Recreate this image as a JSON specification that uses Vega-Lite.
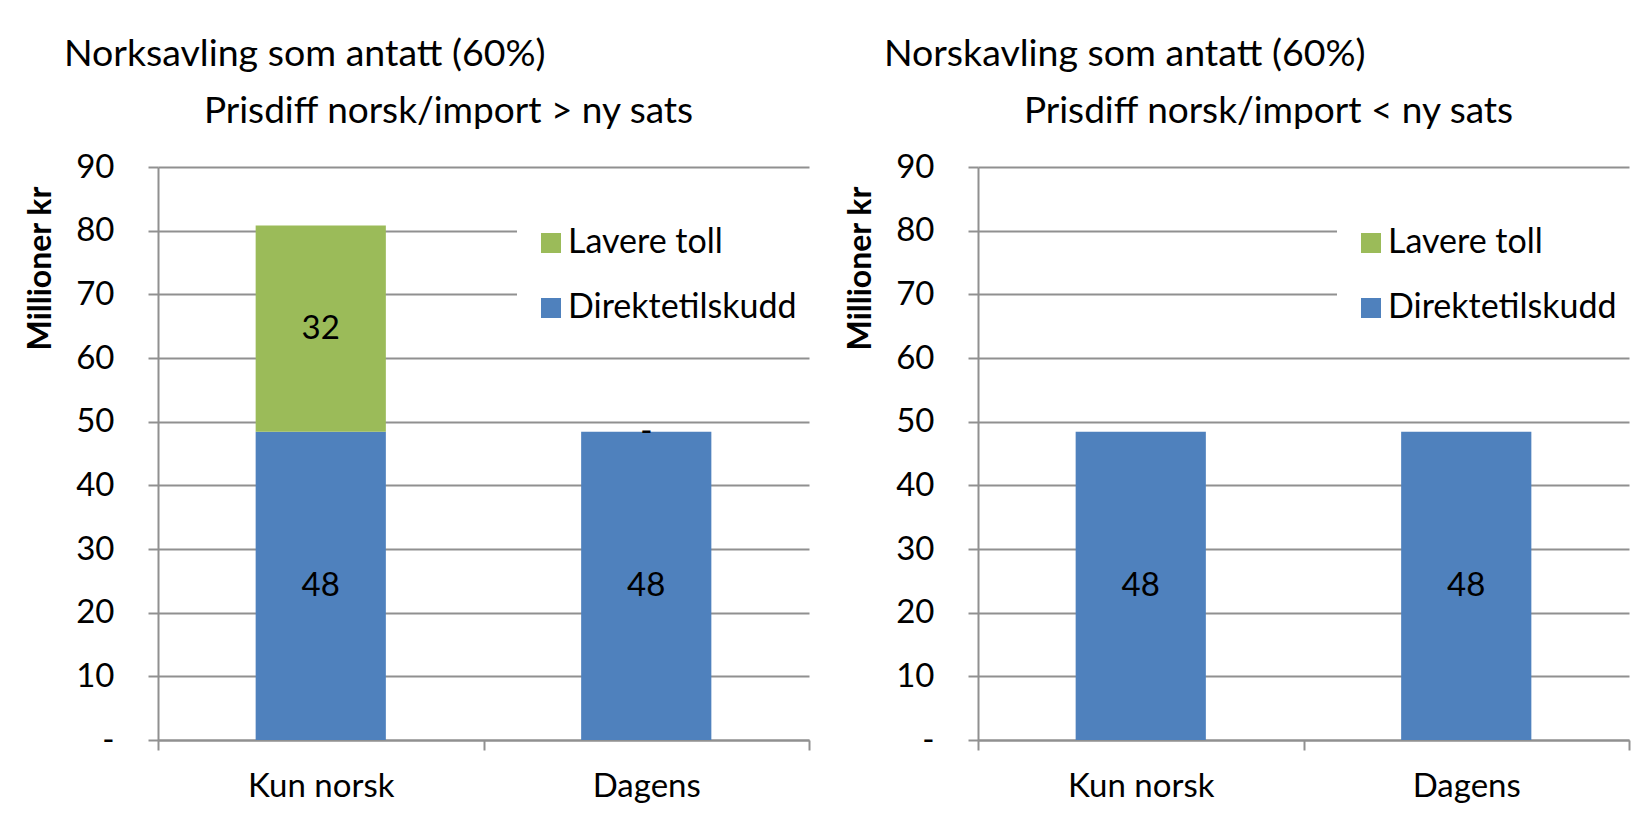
{
  "$schema": "https://vega.github.io/schema/vega-lite/v6.json",
  "background": "white",
  "padding": {"left": 23, "top": 35, "right": 0, "bottom": 0},
  "config": {
    "font": "Lato",
    "view": {"stroke": null},
    "axis": {
      "labelFont": "Lato", "titleFont": "Lato",
      "labelColor": "#000000", "titleColor": "#000000",
      "domainColor": "#909090", "tickColor": "#909090", "gridColor": "#909090",
      "domainWidth": 2, "tickWidth": 2, "gridWidth": 2
    },
    "legend": {"labelFont": "Lato"},
    "title": {"font": "Lato", "fontSize": 37.5, "fontWeight": "normal", "color": "#000000"}
  },
  "datasets": {
    "venstre": [
      {"kategori": "Kun norsk", "serie": "Direktetilskudd", "verdi": 48.4},
      {"kategori": "Kun norsk", "serie": "Lavere toll", "verdi": 32.4},
      {"kategori": "Dagens", "serie": "Direktetilskudd", "verdi": 48.4},
      {"kategori": "Dagens", "serie": "Lavere toll", "verdi": 0}
    ],
    "hoyre": [
      {"kategori": "Kun norsk", "serie": "Direktetilskudd", "verdi": 48.4},
      {"kategori": "Dagens", "serie": "Direktetilskudd", "verdi": 48.4}
    ]
  },
  "spacing": 29,
  "resolve": {"scale": {"color": "independent"}, "legend": {"color": "independent"}},
  "hconcat": [
    {
      "width": 651, "height": 573,
      "title": {"text": "Norksavling som antatt (60%)", "anchor": "start", "frame": "group", "dx": -94, "offset": 19},
      "data": {"name": "venstre"},
      "resolve": {"axis": {"x": "independent"}},
      "layer": [
        {
          "mark": {"type": "bar", "width": {"band": 0.4}},
          "encoding": {
            "x": {"field": "kategori", "type": "nominal", "sort": ["Kun norsk", "Dagens"],
              "scale": {"paddingInner": 0, "paddingOuter": 0},
              "axis": {"orient": "bottom", "title": null, "tickBand": "extent", "tickSize": 10, "labelPadding": 20, "labelFontSize": 33, "labelAngle": 0, "grid": false}},
            "y": {"field": "verdi", "type": "quantitative", "stack": "zero",
              "scale": {"domain": [0, 90], "nice": false},
              "axis": {"values": [0, 10, 20, 30, 40, 50, 60, 70, 80, 90], "labelExpr": "datum.value == 0 ? '-\u00a0\u00a0' : datum.label",
                "tickSize": 10, "labelPadding": 34, "labelFontSize": 33, "grid": true,
                "title": "Millioner kr", "titleFontWeight": "bold", "titleFontSize": 32,
                "titleAngle": 270, "titleX": -118, "titleY": 101, "titleAlign": "center", "titleBaseline": "middle"}},
            "color": {"field": "serie", "type": "nominal",
              "scale": {"domain": ["Lavere toll", "Direktetilskudd"], "range": ["#9BBB59", "#4F81BD"]},
              "legend": {"orient": "none", "legendX": 359, "legendY": 42, "title": null, "fillColor": "white", "padding": 17,
                "symbolType": "square", "symbolSize": 400, "symbolStrokeWidth": 0, "labelFontSize": 34, "labelOffset": 0, "rowPadding": 31, "labelLimit": 0, "labelColor": "#000000"}},
            "order": {"field": "serie", "sort": "ascending"}
          }
        },
        {
          "transform": [
            {"stack": "verdi", "groupby": ["kategori"], "sort": [{"field": "serie", "order": "ascending"}], "as": ["v0", "v1"]},
            {"calculate": "(datum.v0 + datum.v1) / 2", "as": "midt"},
            {"calculate": "datum.verdi == 0 ? '-' : format(datum.verdi, '.0f')", "as": "etikett"}
          ],
          "mark": {"type": "text", "fontSize": 33, "color": "#000000", "baseline": "middle"},
          "encoding": {
            "x": {"field": "kategori", "type": "nominal", "sort": ["Kun norsk", "Dagens"],
              "axis": {"orient": "top", "title": "Prisdiff norsk/import > ny sats", "labels": false, "ticks": false, "domain": false, "grid": false,
                "titleFontSize": 37, "titleFontWeight": "normal", "titleX": 290, "titleY": -56, "titleAlign": "center", "titleBaseline": "middle"}},
            "y": {"field": "midt", "type": "quantitative"},
            "text": {"field": "etikett"}
          }
        }
      ]
    },
    {
      "width": 651, "height": 573,
      "title": {"text": "Norskavling som antatt (60%)", "anchor": "start", "frame": "group", "dx": -94, "offset": 19},
      "data": {"name": "hoyre"},
      "resolve": {"axis": {"x": "independent"}},
      "layer": [
        {
          "mark": {"type": "bar", "width": {"band": 0.4}},
          "encoding": {
            "x": {"field": "kategori", "type": "nominal", "sort": ["Kun norsk", "Dagens"],
              "scale": {"paddingInner": 0, "paddingOuter": 0},
              "axis": {"orient": "bottom", "title": null, "tickBand": "extent", "tickSize": 10, "labelPadding": 20, "labelFontSize": 33, "labelAngle": 0, "grid": false}},
            "y": {"field": "verdi", "type": "quantitative", "stack": "zero",
              "scale": {"domain": [0, 90], "nice": false},
              "axis": {"values": [0, 10, 20, 30, 40, 50, 60, 70, 80, 90], "labelExpr": "datum.value == 0 ? '-\u00a0\u00a0' : datum.label",
                "tickSize": 10, "labelPadding": 34, "labelFontSize": 33, "grid": true,
                "title": "Millioner kr", "titleFontWeight": "bold", "titleFontSize": 32,
                "titleAngle": 270, "titleX": -118, "titleY": 101, "titleAlign": "center", "titleBaseline": "middle"}},
            "color": {"field": "serie", "type": "nominal",
              "scale": {"domain": ["Lavere toll", "Direktetilskudd"], "range": ["#9BBB59", "#4F81BD"]},
              "legend": {"orient": "none", "legendX": 359, "legendY": 42, "title": null, "fillColor": "white", "padding": 17,
                "symbolType": "square", "symbolSize": 400, "symbolStrokeWidth": 0, "labelFontSize": 34, "labelOffset": 0, "rowPadding": 31, "labelLimit": 0, "labelColor": "#000000"}},
            "order": {"field": "serie", "sort": "ascending"}
          }
        },
        {
          "transform": [
            {"stack": "verdi", "groupby": ["kategori"], "sort": [{"field": "serie", "order": "ascending"}], "as": ["v0", "v1"]},
            {"calculate": "(datum.v0 + datum.v1) / 2", "as": "midt"},
            {"calculate": "datum.verdi == 0 ? '-' : format(datum.verdi, '.0f')", "as": "etikett"}
          ],
          "mark": {"type": "text", "fontSize": 33, "color": "#000000", "baseline": "middle"},
          "encoding": {
            "x": {"field": "kategori", "type": "nominal", "sort": ["Kun norsk", "Dagens"],
              "axis": {"orient": "top", "title": "Prisdiff norsk/import < ny sats", "labels": false, "ticks": false, "domain": false, "grid": false,
                "titleFontSize": 37, "titleFontWeight": "normal", "titleX": 290, "titleY": -56, "titleAlign": "center", "titleBaseline": "middle"}},
            "y": {"field": "midt", "type": "quantitative"},
            "text": {"field": "etikett"}
          }
        }
      ]
    }
  ]
}
